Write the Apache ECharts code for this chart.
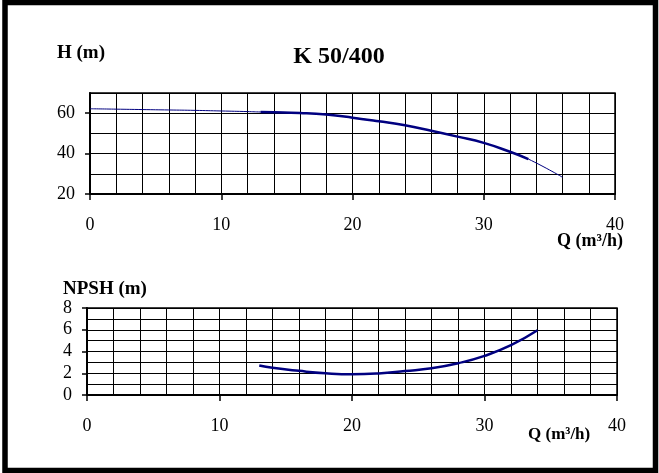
<!DOCTYPE html>
<html>
<head>
<meta charset="utf-8">
<style>
  html, body { margin: 0; padding: 0; background: #fff; }
  #chart { width: 659px; height: 473px; }
</style>
<script src="https://cdn.jsdelivr.net/npm/echarts@6/dist/echarts.min.js"></script>
</head>
<body>
<div id="chart"></div>
<script>
// H curve (head vs flow)
var hQ   = [0, 2, 4, 6, 8, 10, 12, 13, 14, 16, 18, 20, 22, 24, 26, 28, 30, 32, 33.4, 36];
var hVal = [62.2, 62.0, 61.8, 61.6, 61.4, 61.1, 60.8, 60.6, 60.5, 60.1, 59.3, 57.8, 56.0, 54.0, 51.3, 48.4, 45.3, 40.9, 37.3, 28.3];
// operating range drawn thicker
var hThickFrom = 13, hThickTo = 33.4;

// NPSH curve
var nQ   = [13, 14, 16, 18, 20, 22, 24, 26, 28, 30, 32, 34];
var nVal = [2.72, 2.5, 2.22, 2.0, 1.9, 1.98, 2.2, 2.45, 2.92, 3.6, 4.58, 5.95];

// tick labels
var qTicks = [0, 10, 20, 30, 40];
var hTicks = [20, 40, 60];
var nTicks = [0, 2, 4, 6, 8];

var serif = 'Liberation Serif';
var navy = '#000080';
var gridLine = { color: '#000', width: 1 };

function pairs(xs, ys, lo, hi) {
    var out = [];
    xs.forEach(function (x, i) {
        if (lo == null || (x >= lo && x <= hi)) out.push([x, ys[i]]);
    });
    return out;
}

// x: major every 10 (ticks + labels), minor grid every 2
function xAxisCfg(gi) {
    return {
        type: 'value', gridIndex: gi, min: 0, max: 40, interval: 10,
        axisLine: { lineStyle: { color: '#000', width: 2 } },
        axisTick: { length: 6, lineStyle: { color: '#000', width: 1.5 } },
        axisLabel: { customValues: qTicks, margin: 22, color: '#000', fontFamily: serif, fontSize: 18 },
        splitLine: { show: true, lineStyle: gridLine },
        minorTick: { show: false, splitNumber: 5 },
        minorSplitLine: { show: true, lineStyle: gridLine }
    };
}

var labelStyle = { margin: 15, color: '#000', fontFamily: serif, fontSize: 18 };

var chart = echarts.init(document.getElementById('chart'));
chart.setOption({
    animation: false,
    backgroundColor: '#fff',
    grid: [
        { left: 90, top: 93, width: 525, height: 101, show: true, borderColor: '#000', borderWidth: 1.5 },
        { left: 87, top: 308, width: 530, height: 87, show: true, borderColor: '#000', borderWidth: 1.5 }
    ],
    xAxis: [xAxisCfg(0), xAxisCfg(1)],
    yAxis: [
        // top: grid every 10, labels at 20/40/60
        {
            type: 'value', gridIndex: 0, position: 'left', min: 20, max: 70, interval: 10,
            axisLine: { show: true, lineStyle: { color: '#000', width: 2 } },
            axisTick: { show: false },
            axisLabel: Object.assign({ customValues: hTicks }, labelStyle),
            splitLine: { show: true, lineStyle: gridLine }
        },
        // top: tick marks only at the labelled values
        {
            type: 'value', gridIndex: 0, position: 'left', min: 20, max: 70, interval: 10,
            axisLine: { show: false },
            axisTick: { show: true, customValues: hTicks, length: 5, lineStyle: { color: '#000', width: 1.5 } },
            axisLabel: { show: false },
            splitLine: { show: false }
        },
        // bottom: labels every 2, grid every 1
        {
            type: 'value', gridIndex: 1, position: 'left', min: 0, max: 8, interval: 2,
            axisLine: { show: true, lineStyle: { color: '#000', width: 2 } },
            axisTick: { show: true, length: 5, lineStyle: { color: '#000', width: 1.5 } },
            axisLabel: Object.assign({ customValues: nTicks }, labelStyle),
            splitLine: { show: true, lineStyle: gridLine },
            minorTick: { show: false, splitNumber: 2 },
            minorSplitLine: { show: true, lineStyle: gridLine }
        }
    ],
    graphic: [
        { type: 'rect', shape: { x: 5, y: 2.5, width: 650.5, height: 468 },
          style: { fill: null, stroke: '#000', lineWidth: 5.5 } },
        { type: 'text', x: 57, y: 53, style: { text: 'H (m)', fill: '#000', fontFamily: serif, fontWeight: 'bold', fontSize: 19, textVerticalAlign: 'middle' } },
        { type: 'text', x: 339, y: 57, style: { text: 'K 50/400', fill: '#000', fontFamily: serif, fontWeight: 'bold', fontSize: 24, textAlign: 'center', textVerticalAlign: 'middle' } },
        { type: 'text', x: 557, y: 241, style: { text: 'Q (m³/h)', fill: '#000', fontFamily: serif, fontWeight: 'bold', fontSize: 18, textVerticalAlign: 'middle' } },
        { type: 'text', x: 63, y: 289, style: { text: 'NPSH (m)', fill: '#000', fontFamily: serif, fontWeight: 'bold', fontSize: 19, textVerticalAlign: 'middle' } },
        { type: 'text', x: 528, y: 435, style: { text: 'Q (m³/h)', fill: '#000', fontFamily: serif, fontWeight: 'bold', fontSize: 17, textVerticalAlign: 'middle' } }
    ],
    series: [
        {
            type: 'line', xAxisIndex: 0, yAxisIndex: 0, smooth: true, symbol: 'none',
            lineStyle: { color: navy, width: 1 },
            data: pairs(hQ, hVal)
        },
        {
            type: 'line', xAxisIndex: 0, yAxisIndex: 0, smooth: true, symbol: 'none',
            lineStyle: { color: navy, width: 2.5 },
            data: pairs(hQ, hVal, hThickFrom, hThickTo)
        },
        {
            type: 'line', xAxisIndex: 1, yAxisIndex: 2, smooth: true, symbol: 'none',
            lineStyle: { color: navy, width: 2.5 },
            data: pairs(nQ, nVal)
        }
    ]
});
</script>
</body>
</html>
